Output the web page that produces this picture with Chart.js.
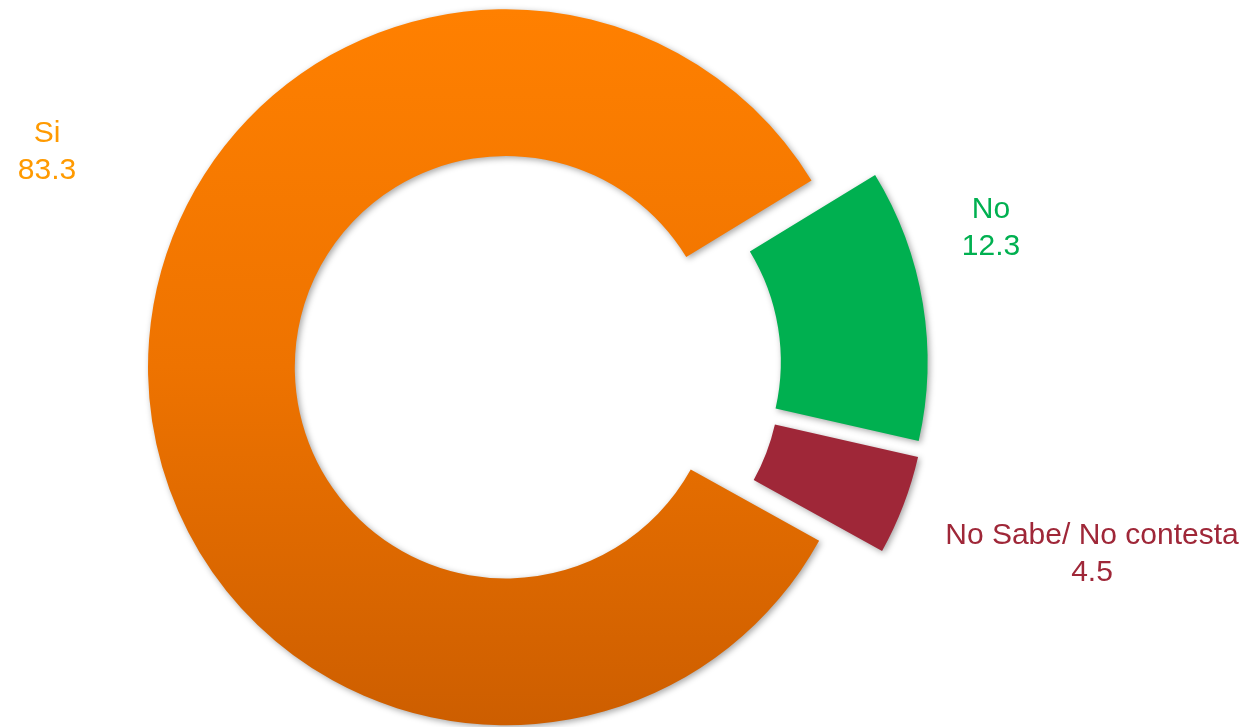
<!DOCTYPE html>
<html>
<head>
<meta charset="utf-8">
<script src="https://cdn.jsdelivr.net/npm/chart.js@4"></script>
<style>
  html, body { margin: 0; padding: 0; background: #fff; }
  #wrap { width: 1257px; height: 727px; position: relative; }
</style>
</head>
<body>
<div id="wrap"><canvas id="myChart"></canvas></div>
<script>
const categories = ["Si", "No", "No Sabe/ No contesta"];
const values = [83.3, 12.3, 4.5];
const valueLabels = ["83.3", "12.3", "4.5"];

const colors = ["#f07800", "#00b050", "#9f2738"];
const textColors = ["#ff9a00", "#00b050", "#9f2738"];
// how far each slice is pulled out of the ring (px)
const explode = [34, 30, 31];
// label anchor (center x, first baseline y)
const labelPos = [[47, 142], [991, 218], [1092, 544]];

const ctx = document.getElementById("myChart");

// move exploded slices outwards along their mid angle
const explodePlugin = {
  id: "explode",
  afterDatasetsUpdate(chart) {
    const meta = chart.getDatasetMeta(0);
    meta.data.forEach((arc, i) => {
      const mid = (arc.startAngle + arc.endAngle) / 2;
      arc.x = arc.x + Math.cos(mid) * explode[i];
      arc.y = arc.y + Math.sin(mid) * explode[i];
    });
  },
};

const shadowPlugin = {
  id: "shadow",
  beforeDatasetsDraw(chart) {
    const c = chart.ctx;
    c.save();
    c.shadowColor = "rgba(0,0,0,0.35)";
    c.shadowBlur = 6;
    c.shadowOffsetX = 2;
    c.shadowOffsetY = 2;
  },
  afterDatasetsDraw(chart) {
    chart.ctx.restore();
  },
};

const labelPlugin = {
  id: "sliceLabels",
  afterDraw(chart) {
    const c = chart.ctx;
    c.save();
    c.font = '30px "Liberation Sans", Arial, sans-serif';
    c.textAlign = "center";
    c.textBaseline = "alphabetic";
    categories.forEach((cat, i) => {
      c.fillStyle = textColors[i];
      c.fillText(cat, labelPos[i][0], labelPos[i][1]);
      c.fillText(valueLabels[i], labelPos[i][0], labelPos[i][1] + 37);
    });
    c.restore();
  },
};

new Chart(ctx, {
  type: "doughnut",
  data: {
    labels: categories,
    datasets: [
      {
        data: values,
        backgroundColor: (context) => {
          const i = context.dataIndex;
          if (i !== 0) return colors[i];
          const g = context.chart.ctx.createLinearGradient(0, 9, 0, 725);
          g.addColorStop(0, "#ff8000");
          g.addColorStop(0.5, "#ee7300");
          g.addColorStop(1, "#cd5e00");
          return g;
        },
        borderWidth: 0,
        hoverOffset: 0,
      },
    ],
  },
  options: {
    responsive: true,
    maintainAspectRatio: false,
    animation: false,
    rotation: 119,
    radius: 358,
    cutout: "59%",
    layout: { padding: { left: 0, right: 177, top: 6, bottom: 0 } },
    plugins: {
      legend: { display: false },
      tooltip: { enabled: false },
    },
  },
  plugins: [explodePlugin, shadowPlugin, labelPlugin],
});
</script>
</body>
</html>
